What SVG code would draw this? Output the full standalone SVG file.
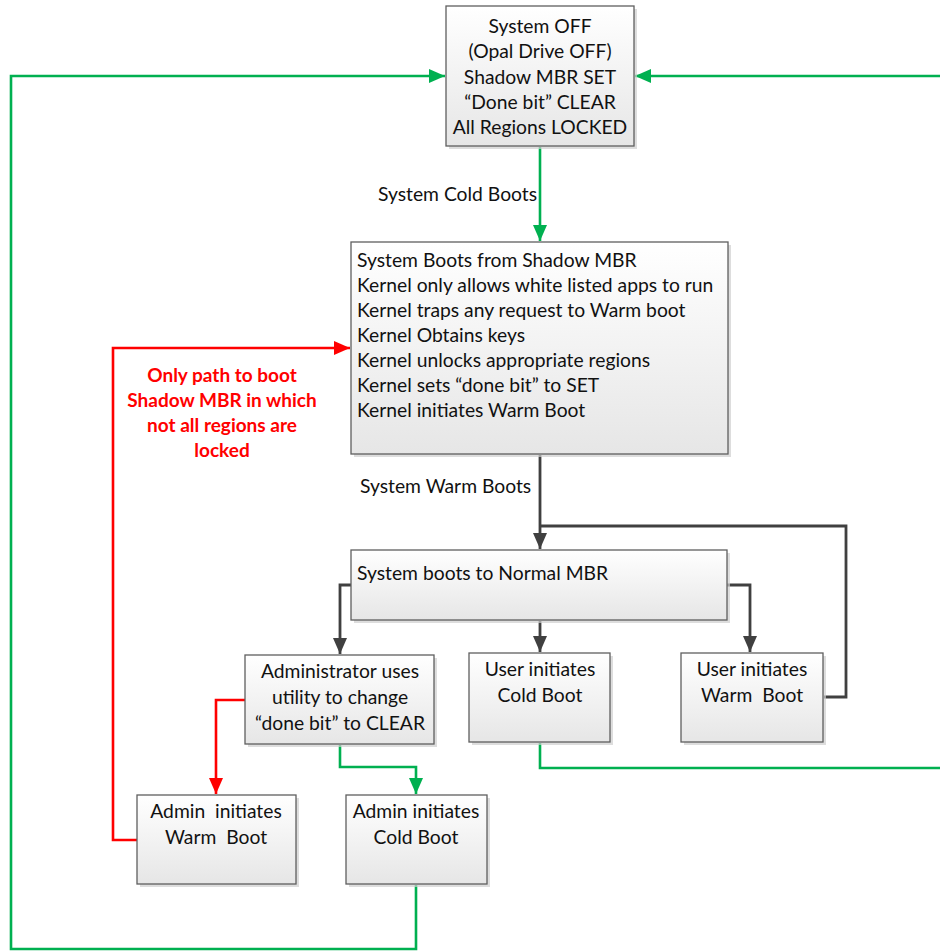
<svg xmlns="http://www.w3.org/2000/svg" width="940" height="951" viewBox="0 0 940 951">
<defs>
<linearGradient id="g" x1="0" y1="0" x2="0" y2="1">
<stop offset="0" stop-color="#ffffff"/>
<stop offset="1" stop-color="#e6e6e6"/>
</linearGradient>
<marker id="ag" viewBox="0 0 16 14" refX="16" refY="7" markerWidth="16" markerHeight="14" markerUnits="userSpaceOnUse" orient="auto"><path d="M0,0 L16,7 L0,14 z" fill="#00b050"/></marker>
<marker id="ar" viewBox="0 0 16 14" refX="16" refY="7" markerWidth="16" markerHeight="14" markerUnits="userSpaceOnUse" orient="auto"><path d="M0,0 L16,7 L0,14 z" fill="#ff0000"/></marker>
<marker id="ad" viewBox="0 0 16 14" refX="16" refY="7" markerWidth="16" markerHeight="14" markerUnits="userSpaceOnUse" orient="auto"><path d="M0,0 L16,7 L0,14 z" fill="#404040"/></marker>
<style>
.box{fill:url(#g);stroke:#5f5f5f;stroke-width:1.3}
.sh{fill:#cfcfcf;opacity:0.7}
text{font-family:Lato,"Liberation Sans",sans-serif;font-size:19.3px;fill:#111}
.c{text-anchor:middle}
.red{fill:#ff0000;font-weight:bold;font-size:19px;text-anchor:middle}
.lg{fill:none;stroke:#00b050;stroke-width:2.6}
.lr{fill:none;stroke:#ff0000;stroke-width:2.6}
.ld{fill:none;stroke:#404040;stroke-width:2.8}
</style>
</defs>
<rect width="940" height="951" fill="#ffffff"/>

<g id="connectors">
<polyline class="lg" points="540,147 540,241" marker-end="url(#ag)"/>
<polyline class="lg" points="940,76 635,76" marker-end="url(#ag)"/>
<polyline class="lg" points="416,885 416,949 11,949 11,76 445,76" marker-end="url(#ag)"/>
<polyline class="lg" points="540,743 540,768 940,768"/>
<polyline class="lg" points="340,745 340,767 416,767 416,794" marker-end="url(#ag)"/>
<polyline class="lr" points="245,700 216,700 216,794" marker-end="url(#ar)"/>
<polyline class="lr" points="137,840 113,840 113,348 350,348" marker-end="url(#ar)"/>
<polyline class="ld" points="540,455 540,549" marker-end="url(#ad)"/>
<polyline class="ld" points="824,697 846,697 846,526 540,526"/>
<polyline class="ld" points="351,585 340,585 340,654" marker-end="url(#ad)"/>
<polyline class="ld" points="540,621 540,652" marker-end="url(#ad)"/>
<polyline class="ld" points="727,585 750,585 750,652" marker-end="url(#ad)"/>
<text x="378" y="201">System Cold Boots</text>
<text x="360" y="493">System Warm Boots</text>
<text class="red" x="222" y="382">Only path to boot</text>
<text class="red" x="222" y="407">Shadow MBR in which</text>
<text class="red" x="222" y="432">not all regions are</text>
<text class="red" x="222" y="457">locked</text>
</g>

<g id="n-off">
<rect class="sh" x="449" y="9" width="188" height="140"/>
<rect class="box" x="446" y="6" width="188" height="140"/>
<text class="c" x="540" y="33">System OFF</text>
<text class="c" x="540" y="58">(Opal Drive OFF)</text>
<text class="c" x="540" y="84">Shadow MBR SET</text>
<text class="c" x="540" y="109">“Done bit” CLEAR</text>
<text class="c" x="540" y="134">All Regions LOCKED</text>
</g>

<g id="n-shadow">
<rect class="sh" x="354" y="245" width="377" height="212"/>
<rect class="box" x="351" y="242" width="377" height="212"/>
<text x="357" y="267">System Boots from Shadow MBR</text>
<text x="357" y="292">Kernel only allows white listed apps to run</text>
<text x="357" y="317">Kernel traps any request to Warm boot</text>
<text x="357" y="342">Kernel Obtains keys</text>
<text x="357" y="367">Kernel unlocks appropriate regions</text>
<text x="357" y="392">Kernel sets “done bit” to SET</text>
<text x="357" y="417">Kernel initiates Warm Boot</text>
</g>

<g id="n-normal">
<rect class="sh" x="354" y="553" width="376" height="70"/>
<rect class="box" x="351" y="550" width="376" height="70"/>
<text x="357" y="580">System boots to Normal MBR</text>
</g>

<g id="n-admin">
<rect class="sh" x="248" y="658" width="189" height="89"/>
<rect class="box" x="245" y="655" width="189" height="89"/>
<text class="c" x="340" y="678">Administrator uses</text>
<text class="c" x="340" y="704">utility to change</text>
<text class="c" x="340" y="730">“done bit” to CLEAR</text>
</g>

<g id="n-usercold">
<rect class="sh" x="472" y="656" width="141" height="89"/>
<rect class="box" x="469" y="653" width="141" height="89"/>
<text class="c" x="540" y="676">User initiates</text>
<text class="c" x="540" y="702">Cold Boot</text>
</g>

<g id="n-userwarm">
<rect class="sh" x="684" y="656" width="142" height="89"/>
<rect class="box" x="681" y="653" width="142" height="89"/>
<text class="c" x="752" y="676">User initiates</text>
<text class="c" x="752" y="702" xml:space="preserve">Warm  Boot</text>
</g>

<g id="n-adminwarm">
<rect class="sh" x="140" y="798" width="159" height="89"/>
<rect class="box" x="137" y="795" width="159" height="89"/>
<text class="c" x="216" y="818" xml:space="preserve">Admin  initiates</text>
<text class="c" x="216" y="844" xml:space="preserve">Warm  Boot</text>
</g>

<g id="n-admincold">
<rect class="sh" x="349" y="798" width="141" height="89"/>
<rect class="box" x="346" y="795" width="141" height="89"/>
<text class="c" x="416" y="818">Admin initiates</text>
<text class="c" x="416" y="844">Cold Boot</text>
</g>
</svg>
